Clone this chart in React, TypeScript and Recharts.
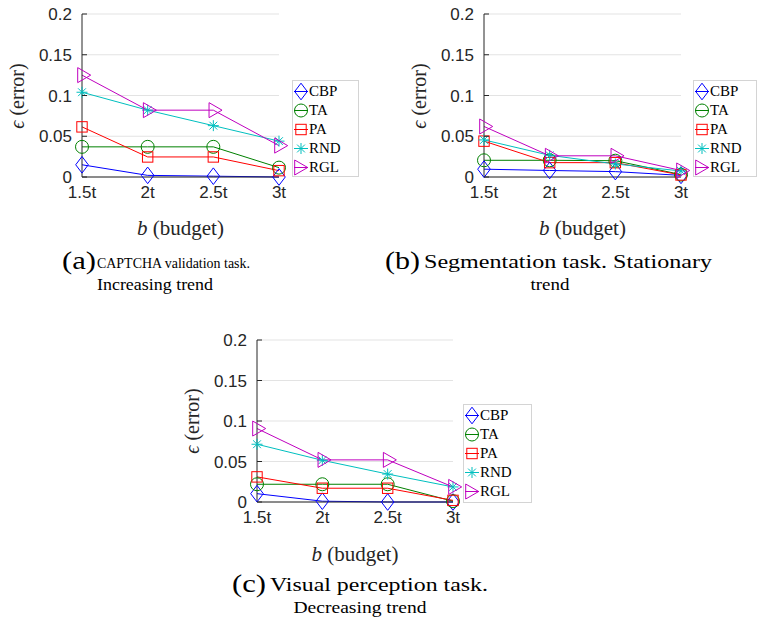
import React from 'react';
import { LineChart, Line, XAxis, YAxis, CartesianGrid } from 'recharts';

const budgets = ['1.5t', '2t', '2.5t', '3t'];
const yTicks = [0, 0.05, 0.1, 0.15, 0.2];
const seriesNames = ['CBP', 'TA', 'PA', 'RND', 'RGL'];
const seriesColors = ['#0000ff', '#008000', '#ff0000', '#00bfbf', '#bf00bf'];
const seriesShapes = ['diamond', 'circle', 'square', 'asterisk', 'triangle'];

// (a) CAPTCHA validation task
const aCBP = [0.015, 0.002, 0.001, 0];
const aTA = [0.037, 0.037, 0.037, 0.0115];
const aPA = [0.0615, 0.0246, 0.0246, 0.0078];
const aRND = [0.104, 0.082, 0.063, 0.044];
const aRGL = [0.125, 0.082, 0.082, 0.0385];

// (b) Segmentation task
const bCBP = [0.0096, 0.008, 0.0066, 0.002];
const bTA = [0.0205, 0.0205, 0.02, 0.003];
const bPA = [0.044, 0.0176, 0.0176, 0.0025];
const bRND = [0.0455, 0.0266, 0.016, 0.0074];
const bRGL = [0.062, 0.026, 0.026, 0.008];

// (c) Visual perception task
const cCBP = [0.0103, 0.001, 0, 0];
const cTA = [0.0219, 0.0219, 0.0219, 0.001];
const cPA = [0.031, 0.017, 0.017, 0.002];
const cRND = [0.0713, 0.0515, 0.0345, 0.0186];
const cRGL = [0.0907, 0.052, 0.052, 0.0186];

const fontSans = '"Liberation Sans", Arial, Helvetica, sans-serif';
const fontSerif = '"Liberation Serif", "Times New Roman", serif';
const axisColor = '#262626';

function buildRows(series: number[][]) {
  return budgets.map((b, i) => {
    const row: any = { b };
    seriesNames.forEach((n, j) => {
      row[n] = series[j][i];
    });
    return row;
  });
}

function Marker({ shape, cx, cy, color }: { shape: string; cx: number; cy: number; color: string }) {
  const common = { fill: 'none', stroke: color, strokeWidth: 1 };
  if (shape === 'diamond') {
    const w = 6.3, h = 8.3;
    return <polygon {...common} points={`${cx},${cy - h} ${cx + w},${cy} ${cx},${cy + h} ${cx - w},${cy}`} />;
  }
  if (shape === 'circle') return <circle {...common} cx={cx} cy={cy} r={6.5} />;
  if (shape === 'square') return <rect {...common} x={cx - 5.2} y={cy - 5.2} width={10.4} height={10.4} />;
  if (shape === 'asterisk') {
    const r = 5.5, d = 3.9;
    return (
      <g {...common}>
        <line x1={cx - r} y1={cy} x2={cx + r} y2={cy} />
        <line x1={cx} y1={cy - r} x2={cx} y2={cy + r} />
        <line x1={cx - d} y1={cy - d} x2={cx + d} y2={cy + d} />
        <line x1={cx - d} y1={cy + d} x2={cx + d} y2={cy - d} />
      </g>
    );
  }
  return <polygon {...common} points={`${cx - 4.3},${cy - 7.5} ${cx + 8.7},${cy} ${cx - 4.3},${cy + 7.5}`} />;
}

const Y_MARGIN = 10;
function YTick(props: any) {
  const { x, y, payload } = props;
  const axisX = x + Y_MARGIN;
  return (
    <g>
      <line x1={axisX} y1={y} x2={axisX + 5} y2={y} stroke={axisColor} strokeWidth={1} />
      <text x={x} y={y} dy="0.36em" textAnchor="end" fill={axisColor} fontSize={17} fontFamily={fontSans}>
        {String(payload.value)}
      </text>
    </g>
  );
}

function Legend({ left, top, width, height }: { left: number; top: number; width: number; height: number }) {
  return (
    <div
      style={{
        position: 'absolute',
        left,
        top,
        width,
        height,
        boxSizing: 'border-box',
        border: '1px solid #d4d4d4',
        background: '#fff',
        paddingTop: 1,
      }}
    >
      {seriesNames.map((n, i) => (
        <div key={n} style={{ display: 'flex', alignItems: 'center', height: 19 }}>
          <svg width={16} height={19} style={{ display: 'block', flex: 'none' }}>
            <line x1={1} y1={9.5} x2={15} y2={9.5} stroke={seriesColors[i]} strokeWidth={1} />
            <Marker shape={seriesShapes[i]} cx={i === 4 ? 6 : 8} cy={9.5} color={seriesColors[i]} />
          </svg>
          <span style={{ fontFamily: fontSerif, fontSize: 15, color: '#000', lineHeight: '19px' }}>{n}</span>
        </div>
      ))}
    </div>
  );
}

type PanelProps = {
  left: number;
  top: number;
  height: number;
  rightMargin: number;
  series: number[][];
  legend: { left: number; top: number; width: number; height: number };
};

const CHART_W = 290;
const Y_AXIS_W = 82;
const X_AXIS_H = 63;
const TOP_M = 14;

function Panel({ left, top, height, rightMargin, series, legend }: PanelProps) {
  const rows = buildRows(series);
  const plotLeft = left + Y_AXIS_W;
  const plotRight = left + CHART_W - rightMargin;
  const plotTop = top + TOP_M;
  const plotBottom = top + height - X_AXIS_H;
  return (
    <>
      <div style={{ position: 'absolute', left, top, width: CHART_W, height }}>
        <LineChart
          width={CHART_W}
          height={height}
          data={rows}
          margin={{ top: TOP_M, right: rightMargin, left: 0, bottom: 0 }}
        >
          <CartesianGrid horizontal vertical={false} stroke="#e3e3e3" strokeWidth={1} />
          <XAxis
            dataKey="b"
            height={X_AXIS_H}
            tickSize={0}
            tickMargin={9}
            axisLine={{ stroke: axisColor, strokeWidth: 1 }}
            tick={{ fill: axisColor, fontSize: 17, fontFamily: fontSans }}
            interval={0}
          />
          <YAxis
            type="number"
            domain={[0, 0.2]}
            ticks={yTicks}
            interval={0}
            width={Y_AXIS_W}
            tickSize={0}
            tickMargin={Y_MARGIN}
            axisLine={{ stroke: axisColor, strokeWidth: 1 }}
            tick={<YTick />}
          />
          {seriesNames.map((n, i) => (
            <Line
              key={n}
              dataKey={n}
              stroke={seriesColors[i]}
              strokeWidth={1}
              isAnimationActive={false}
              activeDot={false}
              dot={(p: any) => (
                <Marker key={`${n}-${p.index}`} shape={seriesShapes[i]} cx={p.cx} cy={p.cy} color={seriesColors[i]} />
              )}
            />
          ))}
        </LineChart>
      </div>
      <div
        style={{
          position: 'absolute',
          left: left + 17,
          top: (plotTop + plotBottom) / 2,
          transform: 'translate(-50%, -50%) rotate(-90deg)',
          whiteSpace: 'nowrap',
          fontFamily: fontSerif,
          fontSize: 20,
          color: axisColor,
          lineHeight: 1,
        }}
      >
        <i>ϵ</i> (error)
      </div>
      <div
        style={{
          position: 'absolute',
          left: (plotLeft + plotRight) / 2,
          top: top + 228,
          transform: 'translate(-50%, -50%)',
          whiteSpace: 'nowrap',
          fontFamily: fontSerif,
          fontSize: 21,
          color: axisColor,
          lineHeight: 1,
        }}
      >
        <i>b</i> (budget)
      </div>
      <Legend {...legend} />
    </>
  );
}

type CaptionSpec = {
  tag: string;
  tagX: number;
  tagW: number;
  line1: string;
  line1X: number;
  line1W: number;
  line1Size: number;
  line2: string;
  line2CX: number;
  line2W: number;
  base: number;
};

const captions: CaptionSpec[] = [
  { tag: '(a)', tagX: 62, tagW: 34, line1: 'CAPTCHA validation task.', line1X: 97, line1W: 153, line1Size: 15, line2: 'Increasing trend', line2CX: 155, line2W: 116, base: 268 },
  { tag: '(b)', tagX: 385, tagW: 35, line1: 'Segmentation task. Stationary', line1X: 424, line1W: 288, line1Size: 19, line2: 'trend', line2CX: 550, line2W: 39, base: 268 },
  { tag: '(c)', tagX: 232, tagW: 34, line1: 'Visual perception task.', line1X: 270, line1W: 218, line1Size: 18, line2: 'Decreasing trend', line2CX: 360, line2W: 133, base: 591 },
];

function Captions() {
  return (
    <svg width={757} height={623} style={{ position: 'absolute', left: 0, top: 0, pointerEvents: 'none' }}>
      {captions.map((c) => (
        <g key={c.tag} fontFamily={fontSerif} fill="#000">
          <text x={c.tagX} y={c.base + 1} fontSize={25} textLength={c.tagW} lengthAdjust="spacingAndGlyphs">
            {c.tag}
          </text>
          <text x={c.line1X} y={c.base} fontSize={c.line1Size} textLength={c.line1W} lengthAdjust="spacingAndGlyphs">
            {c.line1}
          </text>
          <text
            x={c.line2CX}
            y={c.base + 22}
            fontSize={17}
            textAnchor="middle"
            textLength={c.line2W}
            lengthAdjust="spacingAndGlyphs"
          >
            {c.line2}
          </text>
        </g>
      ))}
    </svg>
  );
}

export default function App() {
  return (
    <div style={{ position: 'absolute', left: 0, top: 0, width: 757, height: 623, background: '#fff', overflow: 'hidden' }}>
      <Panel
        left={0}
        top={0}
        height={240}
        rightMargin={11}
        series={[aCBP, aTA, aPA, aRND, aRGL]}
        legend={{ left: 292, top: 80, width: 67, height: 97 }}
      />
      <Panel
        left={402}
        top={0}
        height={240}
        rightMargin={11}
        series={[bCBP, bTA, bPA, bRND, bRGL]}
        legend={{ left: 693, top: 80, width: 64, height: 97 }}
      />
      <Panel
        left={175}
        top={326}
        height={239}
        rightMargin={12}
        series={[cCBP, cTA, cPA, cRND, cRGL]}
        legend={{ left: 463, top: 404, width: 69, height: 99 }}
      />
      <Captions />
    </div>
  );
}
